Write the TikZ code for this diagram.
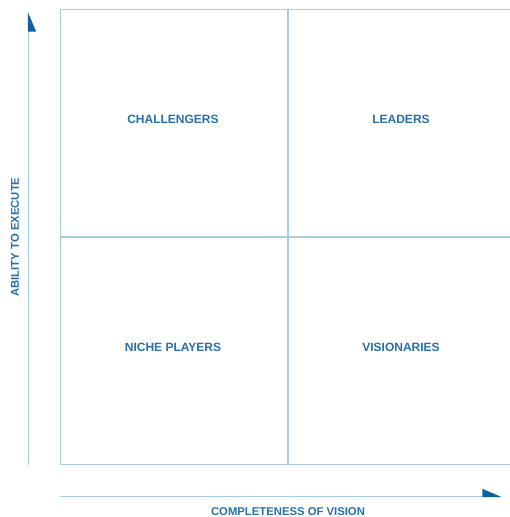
\documentclass[tikz,border=0pt]{standalone}
\usepackage{fontspec}
\setmainfont{Liberation Sans}
\usetikzlibrary{arrows.meta}
\definecolor{gridblue}{RGB}{168,204,228}
\definecolor{textblue}{RGB}{38,112,170}
\definecolor{headblue}{RGB}{16,96,160}
\begin{document}
\begin{tikzpicture}[x=1pt,y=-1pt,
    gridline/.style={draw=gridblue, line width=1.4pt},
    quadlabel/.style={text=textblue, font=\bfseries\fontsize{12}{14}\selectfont, inner sep=0pt},
    axislabel/.style={text=textblue, font=\bfseries\fontsize{11.3}{13}\selectfont, inner sep=0pt},
    axisarrow/.style={draw=gridblue, line width=1.4pt, -{Triangle[harpoon, length=18pt, width=15pt, color=headblue]}}]
    \useasboundingbox (0,0) rectangle (510,517);
    % quadrant grid
    \draw[gridline] (510,9.5) -- (60.5,9.5) -- (60.5,464.5) -- (510,464.5);
    \draw[gridline] (60.5,237) -- (510,237);
    \draw[gridline] (288,9.5) -- (288,464.5);
    % quadrant labels
    \node (challengers) [quadlabel] at (173,119) {CHALLENGERS};
    \node (leaders) [quadlabel] at (401,119) {LEADERS};
    \node (niche) [quadlabel] at (173,347) {NICHE PLAYERS};
    \node (visionaries) [quadlabel] at (401,347) {VISIONARIES};
    % axes
    \coordinate (ybase) at (28.5,465);
    \coordinate (ytop) at (28.5,12);
    \coordinate (xbase) at (60,496.5);
    \coordinate (xend) at (502,496.5);
    \draw[axisarrow, -{Triangle[harpoon, swap, length=18pt, width=15pt, color=headblue]}] (ybase) -- (ytop);
    \draw[axisarrow] (xbase) -- (xend);
    \node (vision) [axislabel] at (288,512) {COMPLETENESS OF VISION};
    \node (execute) [axislabel, rotate=90] at (15,237) {ABILITY TO EXECUTE};
\end{tikzpicture}
\end{document}
